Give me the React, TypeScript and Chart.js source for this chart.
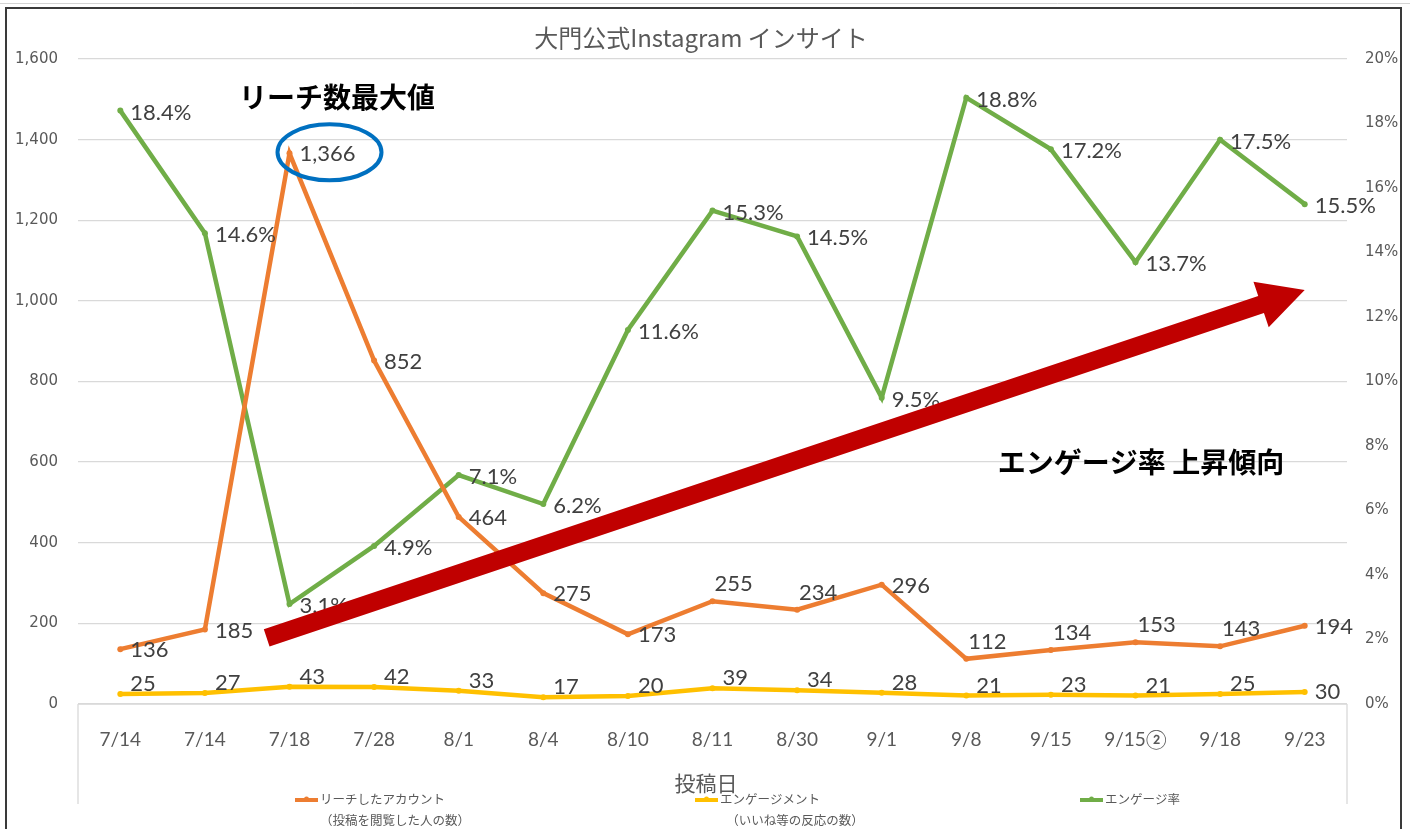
import React, { useEffect, useRef } from 'react';
import { Chart, registerables } from 'chart.js';

Chart.register(...registerables);

const categories = ['7/14', '7/14', '7/18', '7/28', '8/1', '8/4', '8/10', '8/11', '8/30', '9/1', '9/8', '9/15', '9/15②', '9/18', '9/23'];
const reach = [136, 185, 1366, 852, 464, 275, 173, 255, 234, 296, 112, 134, 153, 143, 194];
const engagement = [25, 27, 43, 42, 33, 17, 20, 39, 34, 28, 21, 23, 21, 25, 30];
const engagementRate = [18.4, 14.6, 3.1, 4.9, 7.1, 6.2, 11.6, 15.3, 14.5, 9.5, 18.8, 17.2, 13.7, 17.5, 15.5];

const chartTitle = '大門公式Instagram インサイト';
const xAxisTitle = '投稿日';
const legendNames = [
  ['リーチしたアカウント', '（投稿を閲覧した人の数）'],
  ['エンゲージメント', '（いいね等の反応の数）'],
  ['エンゲージ率', ''],
];
const noteMax = 'リーチ数最大値';
const noteTrend = 'エンゲージ率 上昇傾向';

const ORANGE = '#ED7D31';
const YELLOW = '#FFC000';
const GREEN = '#70AD47';
const GRAY = '#595959';
const LABEL = '#404040';
const JP = '"Noto Sans CJK JP", sans-serif';

const decorPlugin = {
  id: 'decor',
  beforeDraw(chart: any) {
    const ctx = chart.ctx;
    ctx.save();
    ctx.fillStyle = '#ffffff';
    ctx.fillRect(0, 0, chart.width, chart.height);
    ctx.restore();
  },
  afterDatasetsDraw(chart: any) {
    const ctx = chart.ctx;
    ctx.save();
    ctx.font = '22px Lato, sans-serif';
    ctx.fillStyle = LABEL;
    ctx.textAlign = 'left';
    ctx.textBaseline = 'middle';
    chart.data.datasets.forEach((ds: any, di: number) => {
      const meta = chart.getDatasetMeta(di);
      const n = meta.data.length;
      meta.data.forEach((pt: any, i: number) => {
        const v = ds.data[i];
        let txt = '';
        let dx = 10;
        let dy = 0;
        if (di === 0) {
          txt = v.toLocaleString('en-US');
          dy = 1;
          // later flat section: Excel placed labels above the line
          if (i >= 7 && i < n - 1 && i !== 9) { dy = -17; dx = 2; }
        } else if (di === 1) {
          txt = String(v);
          dy = i === n - 1 ? 0 : -10;
        } else {
          txt = v.toFixed(1) + '%';
          dy = 2;
        }
        ctx.fillText(txt, pt.x + dx, pt.y + dy);
      });
    });
    ctx.restore();
  },
  afterDraw(chart: any) {
    const ctx = chart.ctx;
    const ca = chart.chartArea;
    const xs = chart.scales.x;
    const yl = chart.scales.y;
    const yr = chart.scales.y1;
    ctx.save();

    // outer frame
    ctx.strokeStyle = '#d4d4d4';
    ctx.lineWidth = 1;
    ctx.beginPath();
    ctx.moveTo(0, 3.5);
    ctx.lineTo(chart.width, 3.5);
    ctx.stroke();
    ctx.strokeStyle = '#3a3a3a';
    ctx.lineWidth = 2;
    ctx.strokeRect(6, 8, 1395, 900);

    // axis box lines
    ctx.strokeStyle = '#d9d9d9';
    ctx.lineWidth = 1.3;
    ctx.beginPath();
    ctx.moveTo(ca.left, ca.bottom);
    ctx.lineTo(ca.right, ca.bottom);
    ctx.moveTo(ca.left, ca.bottom);
    ctx.lineTo(ca.left, ca.bottom + 100);
    ctx.moveTo(ca.right, ca.bottom);
    ctx.lineTo(ca.right, ca.bottom + 100);
    ctx.stroke();

    // title
    ctx.fillStyle = GRAY;
    ctx.textAlign = 'center';
    ctx.textBaseline = 'middle';
    ctx.font = '24px ' + JP;
    ctx.fillText(chartTitle, 701, 38);

    // x axis title
    ctx.font = '21px ' + JP;
    ctx.fillText(xAxisTitle, 706, 783);

    // legend
    const colors = [ORANGE, YELLOW, GREEN];
    const lx = [295, 695, 1080];
    ctx.font = '12.5px ' + JP;
    legendNames.forEach((names, i) => {
      const x = lx[i];
      ctx.strokeStyle = colors[i];
      ctx.lineWidth = 4;
      ctx.beginPath();
      ctx.moveTo(x, 800);
      ctx.lineTo(x + 23, 800);
      ctx.stroke();
      ctx.fillStyle = colors[i];
      ctx.beginPath();
      ctx.arc(x + 11.5, 799, 2.5, 0, Math.PI * 2);
      ctx.fill();
      ctx.fillStyle = GRAY;
      ctx.textAlign = 'left';
      ctx.fillText(names[0], x + 25, 799);
      if (names[1]) {
        ctx.textAlign = 'center';
        ctx.fillText(names[1], x + 100, 820);
      }
    });

    // annotation: max reach
    const maxIdx = reach.indexOf(Math.max(...reach));
    const px = xs.getPixelForValue(maxIdx);
    const py = yl.getPixelForValue(reach[maxIdx]);
    ctx.strokeStyle = '#0070C0';
    ctx.lineWidth = 4;
    ctx.beginPath();
    ctx.ellipse(px + 40, py - 1, 52, 28, 0, 0, Math.PI * 2);
    ctx.stroke();

    ctx.fillStyle = '#000000';
    ctx.font = 'bold 28px ' + JP;
    ctx.textAlign = 'center';
    ctx.fillText(noteMax, 337, 97);
    ctx.fillText(noteTrend, 1141, 462);

    // trend arrow
    const sx = xs.getPixelForValue(1.73);
    const sy = yr.getPixelForValue(2.05);
    const tx = xs.getPixelForValue(14);
    const ty = yr.getPixelForValue(12.84);
    const ddx = tx - sx;
    const ddy = ty - sy;
    const len = Math.hypot(ddx, ddy);
    const ux = ddx / len, uy = ddy / len;
    const nx = -uy, ny = ux;
    const hw = 9, hh = 24, hl = 46;
    const bx = tx - ux * hl, by = ty - uy * hl;
    ctx.fillStyle = '#C00000';
    ctx.beginPath();
    ctx.moveTo(sx + nx * hw, sy + ny * hw);
    ctx.lineTo(bx + nx * hw, by + ny * hw);
    ctx.lineTo(bx + nx * hh, by + ny * hh);
    ctx.lineTo(tx, ty);
    ctx.lineTo(bx - nx * hh, by - ny * hh);
    ctx.lineTo(bx - nx * hw, by - ny * hw);
    ctx.lineTo(sx - nx * hw, sy - ny * hw);
    ctx.closePath();
    ctx.fill();

    ctx.restore();
  },
};

export default function App() {
  const ref = useRef<HTMLCanvasElement>(null);
  useEffect(() => {
    if (!ref.current) return;
    const chart = new Chart(ref.current, {
      type: 'line',
      data: {
        labels: categories,
        datasets: [
          {
            label: legendNames[0][0],
            data: reach,
            borderColor: ORANGE,
            backgroundColor: ORANGE,
            borderWidth: 4.5,
            pointRadius: 3,
            pointBorderWidth: 0,
            yAxisID: 'y',
            tension: 0,
          },
          {
            label: legendNames[1][0],
            data: engagement,
            borderColor: YELLOW,
            backgroundColor: YELLOW,
            borderWidth: 4.5,
            pointRadius: 3,
            pointBorderWidth: 0,
            yAxisID: 'y',
            tension: 0,
          },
          {
            label: legendNames[2][0],
            data: engagementRate,
            borderColor: GREEN,
            backgroundColor: GREEN,
            borderWidth: 4.5,
            pointRadius: 3,
            pointBorderWidth: 0,
            yAxisID: 'y1',
            tension: 0,
          },
        ],
      },
      options: {
        responsive: false,
        animation: false,
        devicePixelRatio: 1,
        layout: { padding: { left: 0, right: 0, top: 59, bottom: 0 } },
        plugins: {
          legend: { display: false },
          title: { display: false },
          tooltip: { enabled: false },
        },
        scales: {
          x: {
            type: 'category',
            offset: true,
            grid: { display: false },
            border: { display: false },
            ticks: {
              color: GRAY,
              font: { family: 'Lato, sans-serif', size: 19 },
              padding: 16,
              maxRotation: 0,
              autoSkip: false,
            },
            afterFit: (s: any) => { s.height = 125; },
          },
          y: {
            position: 'left',
            min: 0,
            max: 1600,
            ticks: {
              stepSize: 200,
              color: GRAY,
              font: { family: '"DejaVu Sans", sans-serif', size: 15 },
              padding: 20,
              callback: (v: any) => Number(v).toLocaleString('en-US'),
            },
            grid: { color: '#d9d9d9', lineWidth: 1.3, drawTicks: false },
            border: { display: false },
            afterFit: (s: any) => { s.width = 78; },
          },
          y1: {
            position: 'right',
            min: 0,
            max: 20,
            ticks: {
              stepSize: 2,
              color: GRAY,
              font: { family: '"DejaVu Sans", sans-serif', size: 15 },
              padding: 18,
              callback: (v: any) => v + '%',
            },
            grid: { display: false, drawTicks: false },
            border: { display: false },
            afterFit: (s: any) => { s.width = 63; },
          },
        },
      },
      plugins: [decorPlugin],
    });
    return () => chart.destroy();
  }, []);
  return (
    <div style={{ position: 'fixed', left: 0, top: 0, width: 1410, height: 829, background: '#fff' }}>
      <canvas ref={ref} width={1410} height={829} style={{ display: 'block' }} />
    </div>
  );
}
